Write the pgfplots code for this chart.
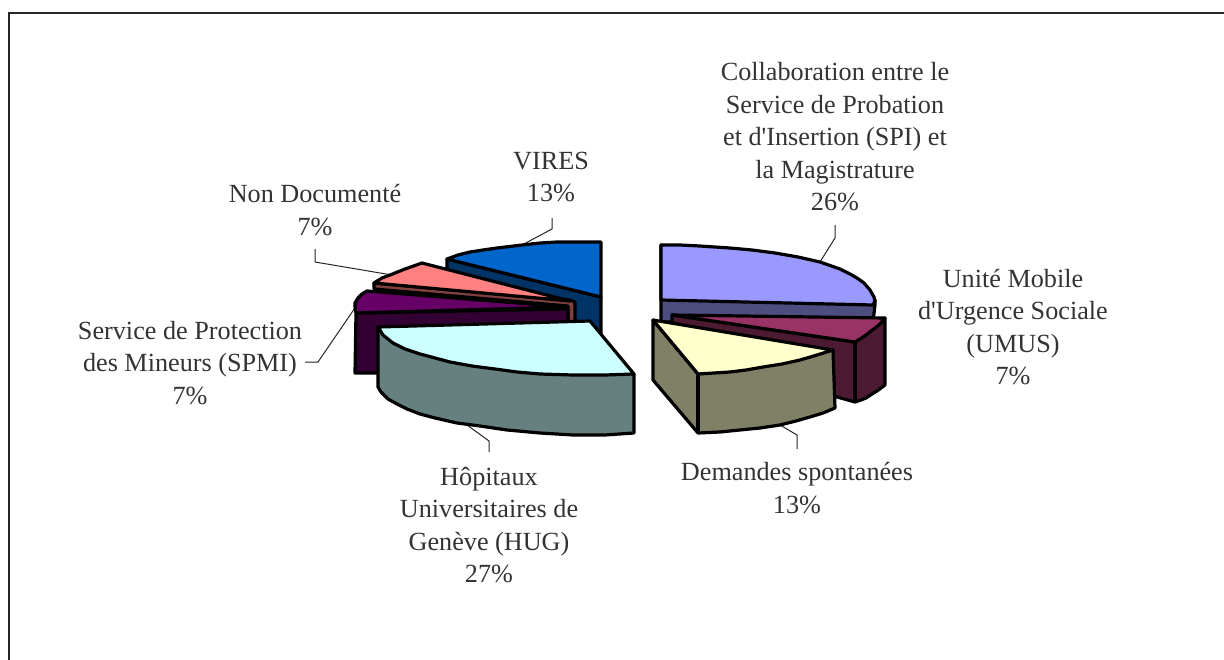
\documentclass[border=0pt]{standalone}
\usepackage{pgfplots}
\pgfplotsset{compat=1.18}
\usepackage{fontspec}
\setmainfont{Liberation Serif}
\newfontfamily\labfont{Liberation Serif}
\definecolor{aTop}{HTML}{9999FF}\definecolor{aWall}{HTML}{4D4D80}
\definecolor{bTop}{HTML}{993366}\definecolor{bWall}{HTML}{4D1A33}
\definecolor{cTop}{HTML}{FFFFCC}\definecolor{cWall}{HTML}{808066}
\definecolor{dTop}{HTML}{CCFFFF}\definecolor{dWall}{HTML}{668080}
\definecolor{eTop}{HTML}{660066}\definecolor{eWall}{HTML}{330033}
\definecolor{fTop}{HTML}{FF8080}\definecolor{fWall}{HTML}{804040}
\definecolor{gTop}{HTML}{0066CC}\definecolor{gWall}{HTML}{003366}
\tikzset{
  slice/.style={draw=black,line width=3.2pt,fill=#1,mark=none,line join=round,line cap=round},
  leader/.style={draw=black!85,line width=1pt,mark=none},
  lab/.style={align=center,anchor=center,inner sep=0pt,font=\labfont\fontsize{26.2}{32.5}\selectfont,text=black!80},
}
\begin{document}
\begin{tikzpicture}
\useasboundingbox (0,0) rectangle (1224pt,659pt);
\begin{axis}[
  width=1224pt,height=659pt,scale only axis,hide axis,
  xmin=0,xmax=1224,ymin=0,ymax=659,y dir=reverse,clip=true,
]
% frame
\addplot[draw=black!85,line width=2pt,mark=none] coordinates {(8.5,700)(8.5,12.5)(1300,12.5)};
% leaders
\addplot[leader] coordinates {(522,245)(552,229)(552,218)};
\addplot[leader] coordinates {(820,262)(835,238)(835,225)};
\addplot[leader] coordinates {(780,425)(797,435)(797,449)};
\addplot[leader] coordinates {(467,425)(489,441)(489,452)};
\addplot[leader] coordinates {(315,249)(315,262)(392,275)};
\addplot[leader] coordinates {(305,362)(318,362)(357,305)};
% VIRES
\addplot[slice=gWall] coordinates {(447,259)(601,297)(601,340)(575,328)(447,270)} -- cycle;
\addplot[slice=gTop] coordinates {(447,259)(458,255)(470,252)(483,250)(497,248)(522,245)(540,243)(557,242)(580,242)(601,242)(601,297)} -- cycle;
% Non documente
\addplot[slice=fWall] coordinates {(374,283)(374,289)(568,306)(568,322)(575,322)(575,302)(570,300)} -- cycle;
\addplot[slice=fTop] coordinates {(374,283)(382,278)(390,275)(405,269)(422,263)(570,301)} -- cycle;
% SPMI
\addplot[slice=eWall] coordinates {(356,313)(568,309)(568,325)(378,373)(355,373)} -- cycle;
\addplot[slice=eTop] coordinates {(356,313)(355,307)(355,303)(358,298)(362,294)(367,291)(567,307)} -- cycle;
% HUG
\addplot[slice=dWall] coordinates {(378,327)(378,387)(381,392)(388,399)(397,404)(407,409)(420,414)(435,418)(457,423)(480,426)(507,430)(540,433)(573,435)(605,435)(634,433)(634,374)} -- cycle;
\addplot[slice=dTop] coordinates {(378,327)(590,321)(634,374)(605,375)(573,375)(540,374)(517,372)(495,369)(472,366)(450,362)(435,358)(420,354)(405,349)(393,343)(383,335)} -- cycle;
% Collaboration
\addplot[slice=aWall] coordinates {(661,245)(661,322)(873,322)(875,305)(875,300)} -- cycle;
\addplot[slice=aTop] coordinates {(661,245)(680,245)(700,246)(730,248)(752,250)(775,253)(798,257)(820,262)(840,269)(850,274)(857,278)(864,283)(870,290)(874,297)(875,301)(873,305)(661,300)} -- cycle;
% UMUS
\addplot[slice=bWall] coordinates {(672,315)(672,322)(837,397)(855,402)(861,400)(866,398)(872,394)(877,391)(885,385)(885,318)(855,342)} -- cycle;
\addplot[slice=bTop] coordinates {(672,315)(885,318)(880,324)(875,328)(871,331)(866,335)(860,339)(855,342)} -- cycle;
\addplot[draw=black,line width=3.2pt,mark=none] coordinates {(855,342)(855,402)};
% Demandes
\addplot[slice=cWall] coordinates {(653,320)(653,380)(698,433)(720,432)(740,430)(760,428)(780,425)(796,421)(810,417)(823,413)(835,408)(833,350)(698,374)} -- cycle;
\addplot[slice=cTop] coordinates {(653,320)(833,350)(817,355)(800,360)(782,364)(763,367)(746,370)(730,372)(714,373)(698,374)} -- cycle;
\addplot[draw=black,line width=3.2pt,mark=none] coordinates {(698,374)(698,433)};
% labels
\node[lab] at (axis cs:835,137) {Collaboration entre le\\Service de Probation\\et d'Insertion (SPI) et\\la Magistrature\\26\%};
\node[lab] at (axis cs:1013,327) {Unité Mobile\\d'Urgence Sociale\\(UMUS)\\7\%};
\node[lab] at (axis cs:797,488) {Demandes spontanées\\13\%};
\node[lab] at (axis cs:489,525) {Hôpitaux\\Universitaires de\\Genève (HUG)\\27\%};
\node[lab] at (axis cs:190,363) {Service de Protection\\des Mineurs (SPMI)\\7\%};
\node[lab] at (axis cs:315,210) {Non Documenté\\7\%};
\node[lab] at (axis cs:551,177) {VIRES\\13\%};
\end{axis}
\end{tikzpicture}
\end{document}
